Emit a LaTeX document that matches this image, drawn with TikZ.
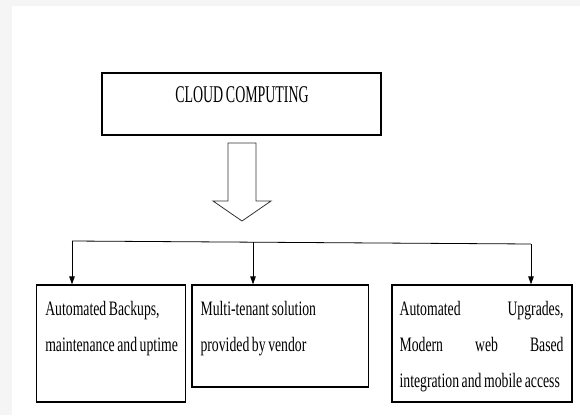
\documentclass[tikz,border=0pt]{standalone}
\usepackage{fontspec}
\setmainfont{Liberation Serif}
\newfontfamily\boxfont[FakeStretch=0.67, WordSpace=0.75]{Liberation Serif}
\newfontfamily\topfont[FakeStretch=0.58, WordSpace=0.8]{Liberation Serif}
\usetikzlibrary{arrows.meta,positioning}

\begin{document}
\begin{tikzpicture}[
    x=1pt, y=-1pt,
    box/.style={draw, rectangle, line width=1.2pt, inner sep=0pt},
    txt/.style={inner sep=0pt, anchor=north west, font={\boxfont\fontsize{20.5}{36}\selectfont},
        execute at begin node={\hyphenpenalty 10000 }},
    line/.style={line width=0.8pt},
    arrow/.style={line width=0.8pt, -{Triangle[length=8pt, width=5.5pt]}},
    bigarrow/.style={draw=black!80, line width=0.8pt, fill=white}
]

    \useasboundingbox (0,0) rectangle (580,415);
    \fill[gray!8] (0,0) rectangle (580,415);
    \fill[white] (12,6) rectangle (580,415);

    \node[box, minimum width=279pt, minimum height=62pt] (cloud) at (241.5,104) {};
    \node[inner sep=0pt, font={\topfont\fontsize{24}{28}\selectfont}] (cloudtxt) at (242,94.5) {CLOUD COMPUTING};

    \draw[bigarrow] (228,143) -- (256,143) -- (256,201) -- (271,201) -- (242,221)
        -- (213,201) -- (228,201) -- cycle;

    \node[box, minimum width=149pt, minimum height=117pt] (backup) at (111.2,343.5) {};
    \node[box, minimum width=176.5pt, minimum height=102pt] (tenant) at (280.2,336) {};
    \node[box, minimum width=180pt, minimum height=117pt] (upgrade) at (482,343.5) {};

    \node[txt, text width=140pt, align=flush left] (backuptxt) at ([shift={(9,17)}]backup.north west)
        {Automated Backups,\\maintenance and uptime};
    \node[txt, text width=160pt, align=flush left] (tenanttxt) at ([shift={(9,17)}]tenant.north west)
        {Multi-tenant solution\\provided by vendor};
    \node[txt, text width=164pt, align=justify] (upgradetxt) at ([shift={(8,17)}]upgrade.north west)
        {Automated Upgrades,\linebreak Modern web Based\linebreak integration and mobile access};

    \coordinate (hl) at (72,241);
    \coordinate (hm) at (253,242.4);
    \coordinate (hr) at (531,244);

    \draw[line] (hl) -- (hr);
    \draw[arrow] (hl) -- (hl |- backup.north);
    \draw[arrow] (hm) -- (hm |- tenant.north);
    \draw[arrow] (hr) -- (hr |- upgrade.north);

\end{tikzpicture}
\end{document}
